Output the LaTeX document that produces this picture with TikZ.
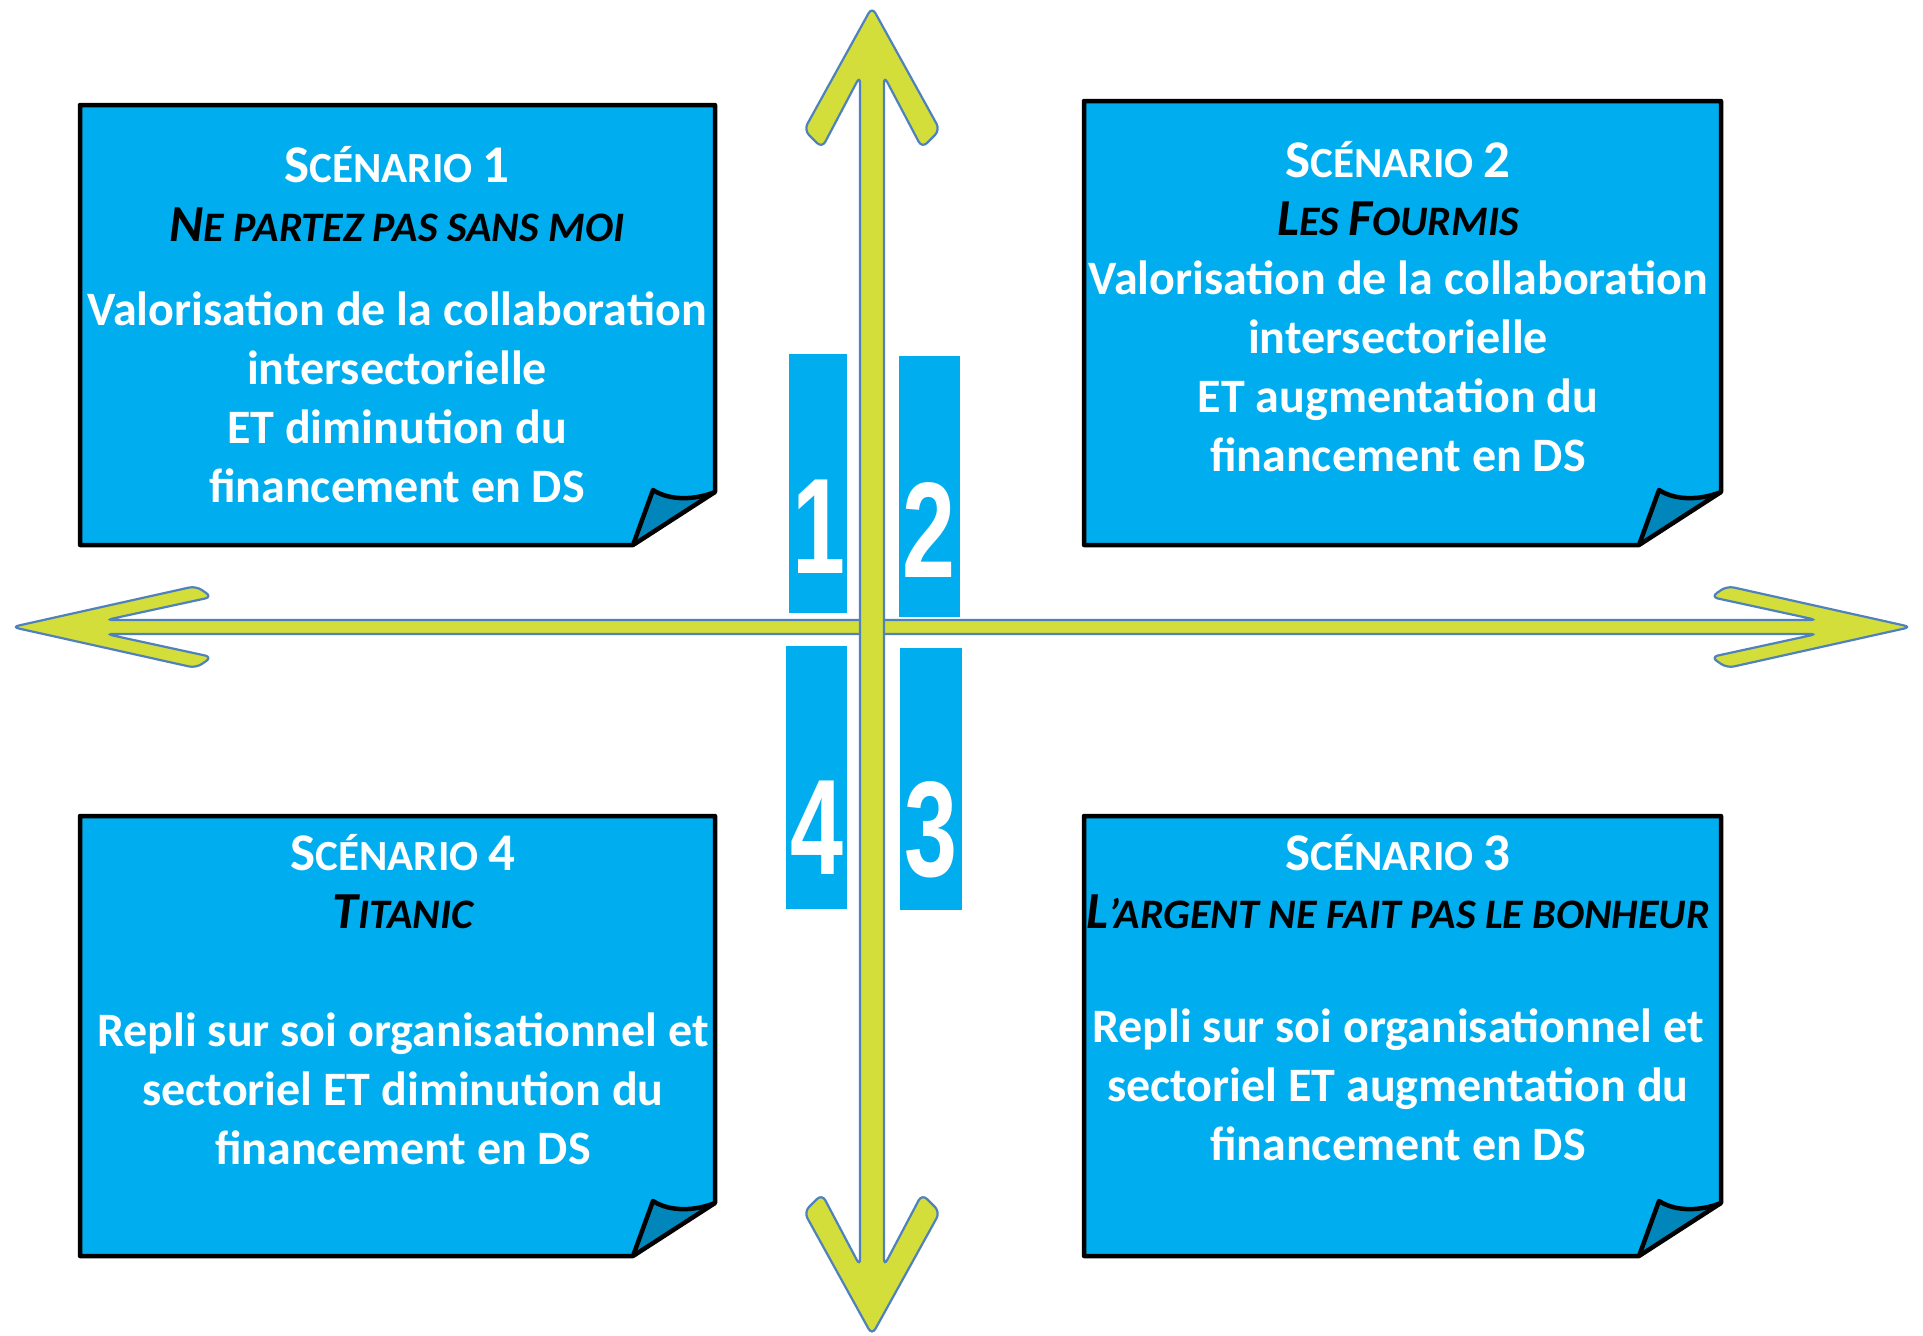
\documentclass[tikz,border=0pt]{standalone}
\usepackage{fontspec}
\setmainfont{Carlito}
\newfontfamily\digitfont{Liberation Sans}

\definecolor{notecyan}{RGB}{0,174,239}
\definecolor{notefold}{RGB}{0,134,186}
\definecolor{axisyellow}{RGB}{212,222,58}
\definecolor{axisblue}{RGB}{79,129,189}

\newcommand{\capbig}[1]{{\fontsize{53}{58}\selectfont #1}}
\newcommand{\capsmall}[1]{{\fontsize{43}{58}\selectfont #1}}
\newcommand{\subbig}[1]{{\fontsize{52}{58}\selectfont #1}}
\newcommand{\subsmall}[1]{{\fontsize{42}{58}\selectfont #1}}

% note with a curled corner: x1, y1, x2, y2
\newcommand{\notebox}[4]{
    \fill[notecyan] (#1,#2) -- (#3,#2) -- (#3,#4-53) -- (#3-82,#4) -- (#1,#4) -- cycle;
    \filldraw[fill = notefold, draw = black, line width = 4.5pt, line join = round]
        (#3,#4-53) .. controls (#3-20,#4-45) and (#3-45,#4-44) .. (#3-62,#4-55) -- (#3-82,#4);
    \draw[line width = 4.5pt, line join = round]
        (#1,#2) -- (#3,#2) -- (#3,#4-53) -- (#3-82,#4) -- (#1,#4) -- cycle;
}

\begin{document}
\begin{tikzpicture}[x = 1pt, y = -1pt,
    axis/.style = {fill = axisyellow, draw = axisblue, line width = 2.2pt, rounded corners = 7pt},
    numbox/.style = {fill = notecyan},
    num/.style = {text = white, font = \digitfont\bfseries\fontsize{136}{136}\selectfont, inner sep = 0pt},
    title/.style = {text = white, font = \bfseries, anchor = base, inner sep = 0pt},
    subtitle/.style = {text = black, font = \bfseries\itshape, anchor = base, inner sep = 0pt},
    body/.style = {text = white, font = \bfseries\fontsize{48}{58.7}\selectfont, align = center,
        anchor = base, inner sep = 0pt}]
    \useasboundingbox (0,0) rectangle (1923,1336);

    \fill[numbox] (789,354) rectangle (847,613);
    \fill[numbox] (899,356) rectangle (960,617);
    \fill[numbox] (786,646) rectangle (847,909);
    \fill[numbox] (900,648) rectangle (962,910);
    \node[num] (n1) at (819,527) {\scalebox{0.7}[1]{1}};
    \node[num] (n2) at (929,530) {\scalebox{0.7}[1]{2}};
    \node[num] (n4) at (817,828) {\scalebox{0.7}[1]{4}};
    \node[num] (n3) at (931,830) {\scalebox{0.7}[1]{3}};

    \path[axis] (12,627) -- (196,586) -- (212,597) -- (106,620) -- (1817,620) -- (1711,597)
        -- (1727,586) -- (1911,627) -- (1727,668) -- (1711,657) -- (1817,634) -- (106,634)
        -- (212,657) -- (196,668) -- cycle;
    \path[axis] (872,7) -- (940,130) -- (922,148) -- (884,76) -- (884,1266) -- (922,1194)
        -- (940,1212) -- (872,1335) -- (804,1212) -- (822,1194) -- (860,1266) -- (860,76)
        -- (822,148) -- (804,130) -- cycle;

    \notebox{80}{105}{715}{545}
    \notebox{1084}{101}{1721}{545}
    \notebox{80}{816}{715}{1256}
    \notebox{1084}{816}{1721}{1256}

    \node[title] (title1) at (397,182) {\capbig{S}\capsmall{CÉNARIO }\capbig{1}};
    \node[subtitle] (sub1) at (397,241) {\subbig{N}\subsmall{E PARTEZ PAS SANS MOI}};
    \node[body] (body1) at (397,502) {Valorisation de la collaboration\\intersectorielle\\
        ET diminution du\\financement en DS};

    \node[title] (title2) at (1398,177) {\capbig{S}\capsmall{CÉNARIO }\capbig{2}};
    \node[subtitle] (sub2) at (1398,235) {\subbig{L}\subsmall{ES }\subbig{F}\subsmall{OURMIS}};
    \node[body] (body2) at (1398,471) {Valorisation de la collaboration\\intersectorielle\\
        ET augmentation du\\financement en DS};

    \node[title] (title4) at (403,870) {\capbig{S}\capsmall{CÉNARIO }\capbig{4}};
    \node[subtitle] (sub4) at (403,928) {\subbig{T}\subsmall{ITANIC}};
    \node[body] (body4) at (403,1164) {Repli sur soi organisationnel et\\
        sectoriel ET diminution du\\financement en DS};

    \node[title] (title3) at (1398,870) {\capbig{S}\capsmall{CÉNARIO }\capbig{3}};
    \node[subtitle] (sub3) at (1398,928) {\subbig{L}\subsmall{’ARGENT NE FAIT PAS LE BONHEUR}};
    \node[body] (body3) at (1398,1160) {Repli sur soi organisationnel et\\
        sectoriel ET augmentation du\\financement en DS};
\end{tikzpicture}
\end{document}
